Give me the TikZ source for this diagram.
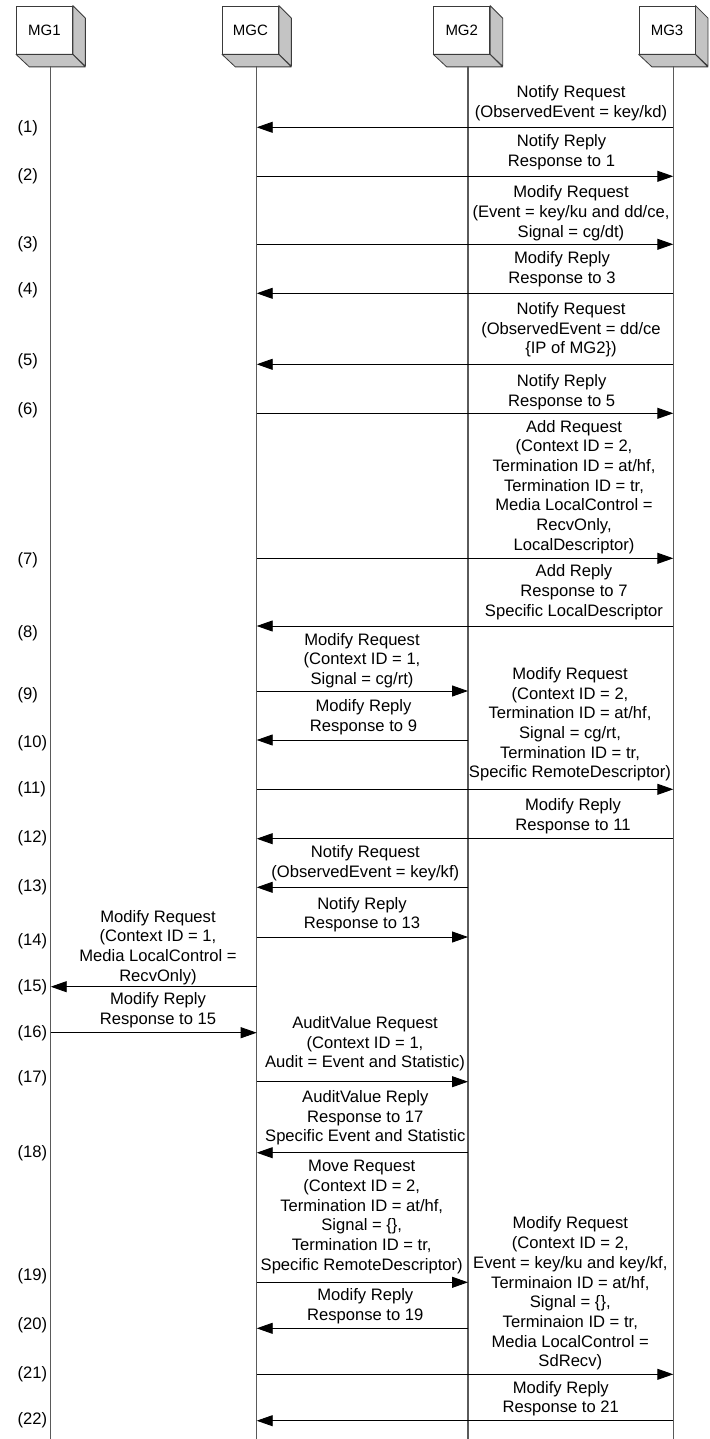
\documentclass[tikz,border=0pt]{standalone}
\usepackage{fontspec}
\setmainfont{Liberation Sans}
\usetikzlibrary{arrows.meta}
\definecolor{lifeln}{HTML}{5A5A5A}
\definecolor{boxside}{HTML}{C4C4C4}
\definecolor{boxedge}{HTML}{3A3A3A}
\newcommand\msgfont{\fontsize{16.6}{19.7}\selectfont}
\newcommand\entfont{\fontsize{15}{18}\selectfont}
% centred block of lines whose baseline is the last line
\newcommand\msglines[1]{\begin{tabular}[b]{@{}c@{}}#1\end{tabular}}
% 3-D box of an entity; #1 name, #2 lifeline x, #3 label
\newcommand\entity[3]{%
  \node[entbox] (#1) at (#2-6.25,30) {#3};
  \filldraw[boxface] (#1.north east) -- ++(12.5,12.5) -- ++(0,48) -- (#1.south east) -- cycle;
  \filldraw[boxface] (#1.south west) -- (#1.south east) -- ++(12.5,12.5) -- ++(-56,0) -- cycle;
  \coordinate (#1L) at (#2,66.5);
  \coordinate (#1E) at (#2,1439);
  \draw[lifeline] (#1L) -- (#1E);
}
\begin{document}
\begin{tikzpicture}[x=1pt,y=-1pt,
  lifeline/.style={draw=lifeln, line width=1.2pt},
  entbox/.style={draw=boxedge, fill=white, line width=0.8pt, minimum width=56pt,
    minimum height=48pt, inner sep=0pt, font=\entfont},
  boxface/.style={draw=boxedge, fill=boxside, line width=0.8pt, line join=round},
  msgarrow/.style={draw=black, line width=0.9pt, -{Triangle[length=16pt,width=11pt]}},
  msgtext/.style={anchor=base, inner sep=0pt, font=\msgfont},
  steplabel/.style={anchor=west, inner sep=0pt, font=\msgfont}]
\fill[white] (0,0) rectangle (709,1439);
\useasboundingbox (0,0) rectangle (709,1439);

% entities and their lifelines
\entity{MG1}{50.7}{MG1}
\entity{MGC}{256.7}{MGC}
\entity{MG2}{468}{MG2}
\entity{MG3}{673.3}{MG3}

% (1)
\coordinate (r1) at (0,127.3);
\draw[msgarrow] (MG3L |- r1) -- (MGCL |- r1);
\node[msgtext] (t1) at (571,117.2) {\msglines{Notify Request\\(ObservedEvent = key/kd)}};
\node[steplabel] (n1) at (17.5,128) {(1)};
% (2)
\coordinate (r2) at (0,176.3);
\draw[msgarrow] (MGCL |- r2) -- (MG3L |- r2);
\node[msgtext] (t2) at (561.5,166.2) {\msglines{Notify Reply\\Response to 1}};
\node[steplabel] (n2) at (17.5,176) {(2)};
% (3)
\coordinate (r3) at (0,244.3);
\draw[msgarrow] (MGCL |- r3) -- (MG3L |- r3);
\node[msgtext] (t3) at (571,237.2) {\msglines{Modify Request\\(Event = key/ku and dd/ce,\\Signal = cg/dt)}};
\node[steplabel] (n3) at (17.5,244) {(3)};
% (4)
\coordinate (r4) at (0,293.3);
\draw[msgarrow] (MG3L |- r4) -- (MGCL |- r4);
\node[msgtext] (t4) at (562,283.2) {\msglines{Modify Reply\\Response to 3}};
\node[steplabel] (n4) at (17.5,290) {(4)};
% (5)
\coordinate (r5) at (0,364.3);
\draw[msgarrow] (MG3L |- r5) -- (MGCL |- r5);
\node[msgtext] (t5) at (571,353.8) {\msglines{Notify Request\\(ObservedEvent = dd/ce\\\{IP of MG2\})}};
\node[steplabel] (n5) at (17.5,361) {(5)};
% (6)
\coordinate (r6) at (0,413.3);
\draw[msgarrow] (MGCL |- r6) -- (MG3L |- r6);
\node[msgtext] (t6) at (561.7,406.2) {\msglines{Notify Reply\\Response to 5}};
\node[steplabel] (n6) at (17.5,410) {(6)};
% (7)
\coordinate (r7) at (0,558.3);
\draw[msgarrow] (MGCL |- r7) -- (MG3L |- r7);
\node[msgtext] (t7) at (574,550.2) {\msglines{Add Request\\(Context ID = 2,\\Termination ID = at/hf,\\Termination ID = tr,\\Media LocalControl =\\RecvOnly,\\LocalDescriptor)}};
\node[steplabel] (n7) at (17.5,560) {(7)};
% (8)
\coordinate (r8) at (0,626);
\draw[msgarrow] (MG3L |- r8) -- (MGCL |- r8);
\node[msgtext] (t8) at (574,616.2) {\msglines{Add Reply\\Response to 7\\Specific LocalDescriptor}};
\node[steplabel] (n8) at (17.5,633) {(8)};
% (9)
\coordinate (r9) at (0,691);
\draw[msgarrow] (MGCL |- r9) -- (MG2L |- r9);
\node[msgtext] (t9) at (362,684.5) {\msglines{Modify Request\\(Context ID = 1,\\Signal = cg/rt)}};
\node[steplabel] (n9) at (17.5,695) {(9)};
% (10)
\coordinate (r10) at (0,740);
\draw[msgarrow] (MG2L |- r10) -- (MGCL |- r10);
\node[msgtext] (t10) at (363.5,731.5) {\msglines{Modify Reply\\Response to 9}};
\node[steplabel] (n10) at (17.5,743) {(10)};
% (11)
\coordinate (r11) at (0,789.3);
\draw[msgarrow] (MGCL |- r11) -- (MG3L |- r11);
\node[msgtext] (t11) at (570,777.8) {\msglines{Modify Request\\(Context ID = 2,\\Termination ID = at/hf,\\Signal = cg/rt,\\Termination ID = tr,\\Specific RemoteDescriptor)}};
\node[steplabel] (n11) at (17.5,789) {(11)};
% (12)
\coordinate (r12) at (0,838.7);
\draw[msgarrow] (MG3L |- r12) -- (MGCL |- r12);
\node[msgtext] (t12) at (573,830.2) {\msglines{Modify Reply\\Response to 11}};
\node[steplabel] (n12) at (17.5,838) {(12)};
% (13)
\coordinate (r13) at (0,887.3);
\draw[msgarrow] (MG2L |- r13) -- (MGCL |- r13);
\node[msgtext] (t13) at (365.3,877.2) {\msglines{Notify Request\\(ObservedEvent = key/kf)}};
\node[steplabel] (n13) at (17.5,887) {(13)};
% (14)
\coordinate (r14) at (0,937);
\draw[msgarrow] (MGCL |- r14) -- (MG2L |- r14);
\node[msgtext] (t14) at (362,928.8) {\msglines{Notify Reply\\Response to 13}};
\node[steplabel] (n14) at (17.5,941) {(14)};
% (15)
\coordinate (r15) at (0,986.7);
\draw[msgarrow] (MGCL |- r15) -- (MG1L |- r15);
\node[msgtext] (t15) at (158,981.2) {\msglines{Modify Request\\(Context ID = 1,\\Media LocalControl =\\RecvOnly)}};
\node[steplabel] (n15) at (17.5,987) {(15)};
% (16)
\coordinate (r16) at (0,1032.7);
\draw[msgarrow] (MG1L |- r16) -- (MGCL |- r16);
\node[msgtext] (t16) at (158,1024.5) {\msglines{Modify Reply\\Response to 15}};
\node[steplabel] (n16) at (17.5,1033) {(16)};
% (17)
\coordinate (r17) at (0,1081.7);
\draw[msgarrow] (MGCL |- r17) -- (MG2L |- r17);
\node[msgtext] (t17) at (365,1067.8) {\msglines{AuditValue Request\\(Context ID = 1,\\Audit = Event and Statistic)}};
\node[steplabel] (n17) at (17.5,1078) {(17)};
% (18)
\coordinate (r18) at (0,1152.7);
\draw[msgarrow] (MG2L |- r18) -- (MGCL |- r18);
\node[msgtext] (t18) at (365.3,1141.8) {\msglines{AuditValue Reply\\Response to 17\\Specific Event and Statistic}};
\node[steplabel] (n18) at (17.5,1153) {(18)};
% (19)
\coordinate (r19) at (0,1282.3);
\draw[msgarrow] (MGCL |- r19) -- (MG2L |- r19);
\node[msgtext] (t19) at (361.7,1270.2) {\msglines{Move Request\\(Context ID = 2,\\Termination ID = at/hf,\\Signal = \{\},\\Termination ID = tr,\\Specific RemoteDescriptor)}};
\node[steplabel] (n19) at (17.5,1276) {(19)};
% (20)
\coordinate (r20) at (0,1328.3);
\draw[msgarrow] (MG2L |- r20) -- (MGCL |- r20);
\node[msgtext] (t20) at (365.3,1320.2) {\msglines{Modify Reply\\Response to 19}};
\node[steplabel] (n20) at (17.5,1325) {(20)};
% (21)
\coordinate (r21) at (0,1374.3);
\draw[msgarrow] (MGCL |- r21) -- (MG3L |- r21);
\node[msgtext] (t21) at (570.3,1366.8) {\msglines{Modify Request\\(Context ID = 2,\\Event = key/ku and key/kf,\\Terminaion ID = at/hf,\\Signal = \{\},\\Terminaion ID = tr,\\Media LocalControl =\\SdRecv)}};
\node[steplabel] (n21) at (17.5,1374) {(21)};
% (22)
\coordinate (r22) at (0,1420.7);
\draw[msgarrow] (MG3L |- r22) -- (MGCL |- r22);
\node[msgtext] (t22) at (560.8,1412.8) {\msglines{Modify Reply\\Response to 21}};
\node[steplabel] (n22) at (17.5,1420) {(22)};
\end{tikzpicture}
\end{document}
